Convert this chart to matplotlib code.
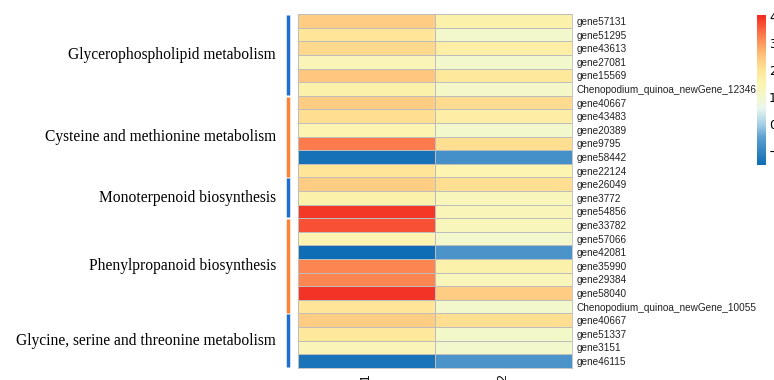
import numpy as np
import matplotlib
matplotlib.use('Agg')
import matplotlib.pyplot as plt
from matplotlib.colors import LinearSegmentedColormap
from matplotlib.transforms import blended_transform_factory

# gene rows, top to bottom
genes = ['gene57131', 'gene51295', 'gene43613', 'gene27081', 'gene15569',
         'Chenopodium_quinoa_newGene_12346',
         'gene40667', 'gene43483', 'gene20389', 'gene9795', 'gene58442', 'gene22124',
         'gene26049', 'gene3772', 'gene54856',
         'gene33782', 'gene57066', 'gene42081', 'gene35990', 'gene29384', 'gene58040',
         'Chenopodium_quinoa_newGene_10055',
         'gene40667', 'gene51337', 'gene3151', 'gene46115']
samples = ['T1', 'T2']

t1 = [2.4, 2.0, 2.2, 1.4, 2.5, 1.6,
      2.4, 2.1, 1.5, 3.3, -1.4, 2.0,
      2.4, 1.6, 3.9,
      3.7, 1.5, -1.5, 3.2, 3.2, 3.95, 2.0,
      2.4, 1.9, 1.4, -1.35]
t2 = [1.6, 1.0, 1.7, 1.0, 1.9, 1.1,
      2.15, 1.7, 1.0, 2.1, -0.8, 1.5,
      2.1, 1.3, 1.35,
      1.3, 1.0, -0.7, 1.6, 1.3, 2.4, 1.0,
      2.1, 1.05, 1.0, -0.7]

pathways = ['Glycerophospholipid metabolism',
            'Cysteine and methionine metabolism',
            'Monoterpenoid biosynthesis',
            'Phenylpropanoid biosynthesis',
            'Glycine, serine and threonine metabolism']
pathway_sizes = [6, 6, 3, 7, 4]
pathway_colors = ['#1f6fce', '#ff8336', '#1f6fce', '#ff8336', '#1f6fce']

vmin, vmax = -1.5, 4.05
stops = [(-1.5, '#0f6db5'), (-0.5, '#5b9fcf'), (0.0, '#a6d0e6'), (0.6, '#eaf6f0'),
         (1.0, '#f2f8cc'), (1.5, '#fcf4b0'), (2.0, '#fee597'), (2.5, '#fec67e'),
         (3.0, '#fd9a5c'), (3.5, '#fb6640'), (4.05, '#f22a20')]
cmap = LinearSegmentedColormap.from_list(
    'hm', [((v - vmin) / (vmax - vmin), c) for v, c in stops])

data = np.column_stack([t1, t2])

fig = plt.figure(figsize=(7.74, 3.80), dpi=100)
ax = fig.add_axes([0.385, 0.0321, 0.354, 0.9305])
mesh = ax.pcolormesh(data, cmap=cmap, vmin=vmin, vmax=vmax,
                     edgecolors='#bdbdbd', linewidth=0.6)
ax.set_xlim(0, 2)
ax.set_ylim(len(genes), 0)
for s in ax.spines.values():
    s.set_color('#bdbdbd')
    s.set_linewidth(0.6)

ax.yaxis.tick_right()
ax.set_yticks(np.arange(len(genes)) + 0.5)
ax.set_yticklabels(genes, fontsize=7.2, family='Liberation Sans', color='#222222')
ax.tick_params(axis='y', length=0, pad=3)
ax.set_xticks([0.5, 1.5])
ax.set_xticklabels(samples, rotation=90, fontsize=9, family='Liberation Sans',
                   va='top')
ax.tick_params(axis='x', length=0, pad=4)

# pathway annotation bars and labels
trans = blended_transform_factory(ax.transAxes, ax.transData)
start = 0
for name, n, col in zip(pathways, pathway_sizes, pathway_colors):
    ax.plot([-0.038, -0.038], [start + 0.06, start + n - 0.06], color=col,
            lw=2.5, transform=trans, clip_on=False, solid_capstyle='butt')
    ax.text(-0.08, start + n / 2, name, transform=trans, ha='right', va='center',
            fontsize=11.2, family='Liberation Serif')
    start += n

cax = fig.add_axes([0.978, 0.566, 0.012, 0.395])
cb = fig.colorbar(mesh, cax=cax, ticks=[-1, 0, 1, 2, 3, 4])
cb.outline.set_visible(False)
cax.tick_params(length=0, labelsize=9, pad=2)

fig.savefig('out.png', dpi=100)
